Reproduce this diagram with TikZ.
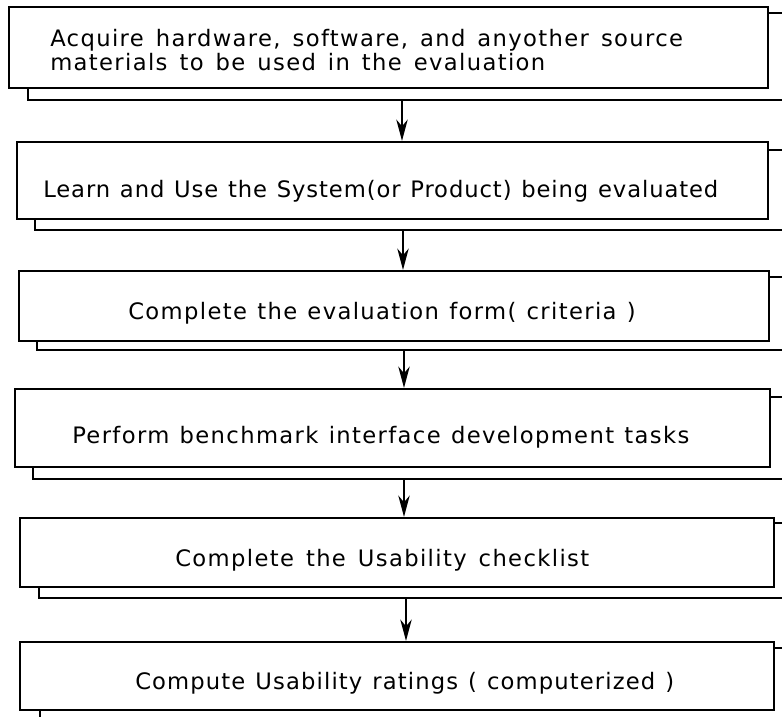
\documentclass[tikz,border=0pt]{standalone}
\usepackage{fontspec}
\setmainfont{DejaVu Sans}[LetterSpace=6,WordSpace=1.2]
\newfontfamily\widefont{DejaVu Sans}[LetterSpace=6,WordSpace=1.4]
\newfontfamily\tightfont{DejaVu Sans}[LetterSpace=4,WordSpace=1.2]
\newfontfamily\midfont{DejaVu Sans}[LetterSpace=5,WordSpace=1.2]
\usetikzlibrary{arrows.meta,fit}
\begin{document}
\begin{tikzpicture}[x=0.75pt,y=-0.75pt,
  frontbox/.style={draw, fill=white, line width=1.6pt, inner sep=0pt},
  backbox/.style={draw, line width=1.6pt, inner sep=0pt},
  lbl/.style={anchor=base west, inner sep=0pt, font=\fontsize{17pt}{20pt}\selectfont},
  flow/.style={line width=1.7pt, -{Stealth[length=16pt,width=8.5pt,inset=5pt]}}]
\clip (0,0) rectangle (782,717);
\fill[white] (0,0) rectangle (782,717);
% back boxes
\node[backbox, fit={(28,13) (800,100)}] (b1) {};
\node[backbox, fit={(35,150) (800,230)}] (b2) {};
\node[backbox, fit={(37,277) (800,350)}] (b3) {};
\node[backbox, fit={(33,397) (800,479)}] (b4) {};
\node[backbox, fit={(39,523) (800,598)}] (b5) {};
\node[backbox, fit={(40,648) (800,730)}] (b6) {};
% front boxes
\node[frontbox, fit={(9,7) (768,88)}] (f1) {};
\node[frontbox, fit={(17,142) (768,219)}] (f2) {};
\node[frontbox, fit={(19,271) (769,341)}] (f3) {};
\node[frontbox, fit={(15,389) (770,467)}] (f4) {};
\node[frontbox, fit={(20,518) (774,587)}] (f5) {};
\node[frontbox, fit={(20,642) (774,710)}] (f6) {};
% labels
\node[lbl] (t1a) at (50,47) {\widefont Acquire hardware, software, and anyother source};
\node[lbl] (t1b) at (50,70) {\widefont materials to be used in the evaluation};
\node[lbl] (t2) at (43,197) {\tightfont Learn and Use the System(or Product) being evaluated};
\node[lbl] (t3) at (128,319) {Complete the evaluation form( criteria )};
\node[lbl] (t4) at (72,443) {Perform benchmark interface development tasks};
\node[lbl] (t5) at (175,566) {\widefont Complete the Usability checklist};
\node[lbl] (t6) at (135,689) {\midfont Compute Usability ratings ( computerized )};
% arrow columns
\coordinate (c1) at (402,0);
\coordinate (c2) at (403,0);
\coordinate (c3) at (404,0);
\coordinate (c4) at (404,0);
\coordinate (c5) at (406,0);
\draw[flow] (b1.south -| c1) -- (f2.north -| c1);
\draw[flow] (b2.south -| c2) -- (f3.north -| c2);
\draw[flow] (b3.south -| c3) -- (f4.north -| c3);
\draw[flow] (b4.south -| c4) -- (f5.north -| c4);
\draw[flow] (b5.south -| c5) -- (f6.north -| c5);
\end{tikzpicture}
\end{document}
